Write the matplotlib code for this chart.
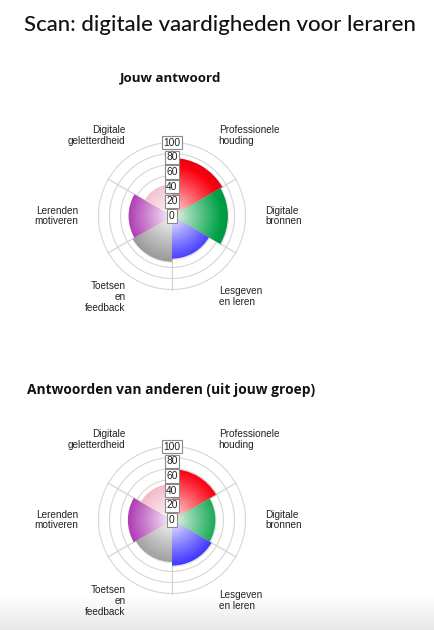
import numpy as np
import matplotlib
matplotlib.use("Agg")
import matplotlib.pyplot as plt
from matplotlib.patches import Wedge

# ---------------- data ----------------
categories = ["Professionele\nhouding", "Digitale\nbronnen", "Lesgeven\nen leren",
              "Toetsen\nen\nfeedback", "Lerenden\nmotiveren", "Digitale\ngeletterdheid"]
own_scores = [79, 76, 58, 62, 59, 43]
group_scores = [69, 59, 62, 57, 60, 49]
tick_values = [0, 20, 40, 60, 80, 100]
grid_values = [10, 25, 40, 55, 70, 85, 100]
title = "Scan: digitale vaardigheden voor leraren"
subtitle_own = "Jouw antwoord"
subtitle_group = "Antwoorden van anderen (uit jouw groep)"

base_colors = [(252, 0, 16), (0, 160, 70), (50, 40, 255),
               (145, 145, 145), (165, 35, 170), (238, 163, 180)]

# ---------------- layout ----------------
W, H = 435, 630
fig = plt.figure(figsize=(W / 100, H / 100), dpi=100)
fig.patch.set_facecolor("white")

S = 0.735   # px per data unit
L = 175     # half extent of axes in data units

label_font = ["Liberation Sans", "DejaVu Sans"]

label_pos = [(63.5, 110, "left"), (127, 0, "left"), (63.5, -110, "left"),
             (-63.5, -110, "right"), (-127, 0, "right"), (-63.5, 110, "right")]

# bottom fade band (behind everything)
bax = fig.add_axes([0, 0, 1, 34 / H], zorder=-5)
bax.axis("off")
ramp = np.linspace(0, 1, 64)
band = np.ones((64, 1, 4))
band[..., :3] = 0.91
band[:, 0, 3] = ramp
bax.imshow(band, aspect="auto", extent=[0, 1, 0, 1], interpolation="bilinear", origin="upper")
bax.set_xlim(0, 1)
bax.set_ylim(0, 1)


def make_chart(cx, cy, values):
    left = (cx - L * S) / W
    bottom = (H - cy - L * S) / H
    ax = fig.add_axes([left, bottom, 2 * L * S / W, 2 * L * S / H])
    ax.set_xlim(-L, L)
    ax.set_ylim(-L, L)
    ax.set_aspect("equal")
    ax.axis("off")
    ax.patch.set_alpha(0)

    th = np.linspace(0, 2 * np.pi, 400)
    for g in grid_values:
        ax.plot(g * np.cos(th), g * np.sin(th), color="#d6d6d6", lw=0.8, zorder=1)
    for i in range(6):
        a = np.deg2rad(90 - 60 * i)
        ax.plot([0, 100 * np.cos(a)], [0, 100 * np.sin(a)], color="#cfcfcf", lw=0.8, zorder=1)

    n = 500
    xs = np.linspace(-100, 100, n)
    XX, YY = np.meshgrid(xs, xs[::-1])
    R = np.hypot(XX, YY)
    t = np.clip(R / 68.0, 0, 1.25) ** 0.85

    for i, v in enumerate(values):
        th1 = 90 - 60 * (i + 1)
        th2 = 90 - 60 * i
        sh = Wedge((0.8, -1.0), v + 0.9, th1, th2, fc=(0, 0, 0, 0.10), ec="none", zorder=2)
        ax.add_patch(sh)
        base = np.array(base_colors[i]) / 255.0
        img = np.ones((n, n, 4))
        for c in range(3):
            lin = 1 - (1 - base[c]) * np.minimum(t, 1)
            dark = base[c] * (1 - 0.5 * np.maximum(t - 1, 0))
            img[..., c] = np.where(t <= 1, lin, dark)
        w = Wedge((0, 0), v, th1, th2, fc="none", ec="none", zorder=3)
        ax.add_patch(w)
        im = ax.imshow(img, extent=[-100, 100, -100, 100], zorder=3, interpolation="bilinear")
        im.set_clip_path(w)

    for tv in tick_values:
        ax.text(0, tv, str(tv), ha="center", va="center", fontsize=7.4,
                family=label_font, color="#222222", zorder=6,
                bbox=dict(boxstyle="square,pad=0.16", fc="white", ec="#8a8a8a", lw=0.8))

    for (x, y, ha), lab in zip(label_pos, categories):
        ax.text(x, y, lab, ha=ha, va="center", fontsize=7.2, family=label_font,
                color="#222222", linespacing=1.1, zorder=6, clip_on=False)
    return ax


make_chart(172, 216, own_scores)
make_chart(172, 520, group_scores)

tt = fig.text(220 / W, 1 - 25 / H, title, ha="center", va="center", fontsize=16,
              family=["Lato", "DejaVu Sans"], fontweight="medium", color="#111111")
r = fig.canvas.get_renderer()
wpx = tt.get_window_extent(renderer=r).width
tt.set_fontsize(16 * 392.0 / wpx)

fig.text(171 / W, 1 - 78 / H, subtitle_own, ha="center", va="center", fontsize=9.6,
         family=["Open Sans", "DejaVu Sans"], fontweight="bold", color="#111111")
fig.text(171 / W, 1 - 390 / H, subtitle_group, ha="center", va="center", fontsize=9.9,
         family=["Open Sans", "DejaVu Sans"], fontweight="bold", color="#111111")

fig.savefig("out.png", dpi=100, facecolor="white")
